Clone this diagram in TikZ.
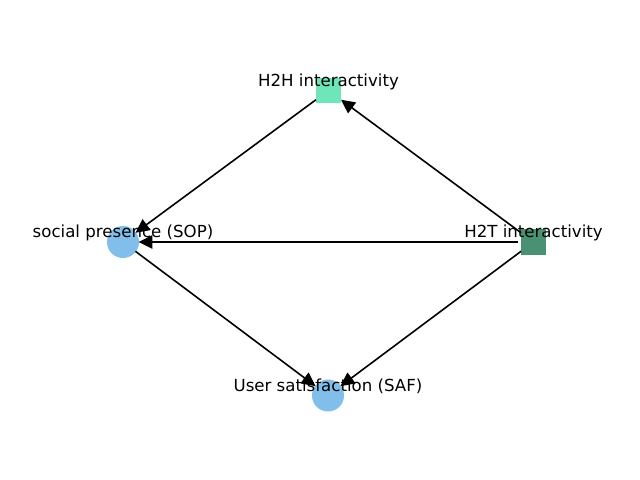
\documentclass[tikz,border=0pt]{standalone}
\usepackage{fontspec}
\setmainfont{DejaVu Sans}
\usepackage{tikz}
\usepackage{xcolor}
\definecolor{mintgreen}{RGB}{111,230,186}
\definecolor{deepgreen}{RGB}{74,145,115}
\definecolor{skyblue}{RGB}{130,190,234}
\usetikzlibrary{arrows.meta}

\begin{document}
\begin{tikzpicture}[
	x=0.01in, y=-0.01in,  % one unit = one pixel of the reference
	sqnode/.style={
		rectangle,            % square marker
		draw=none,            % no border
		minimum size=18.07pt, % side
		inner sep=0pt
	},
	dotnode/.style={
		circle,               % round marker
		draw=none,            % no border
		fill=skyblue,         % light blue fill
		minimum size=23.13pt, % diameter
		inner sep=0pt
	},
	link/.style={
		draw=black,           % black line
		line width=1.15pt,    % thickness
		-{Triangle[length=10pt,width=9.6pt]},
		shorten <=11.2pt,     % leave the start marker free
		shorten >=11.2pt      % stop at the end marker
	},
	tag/.style={
		anchor=base,          % place by baseline
		font=\fontsize{12}{14}\selectfont,
		text=black,
		inner sep=0pt,
		yshift=2.89pt         % baseline a bit above the marker centre
	}
]
	\useasboundingbox (0,0) rectangle (640,480);

	% markers
	\node[sqnode, fill=mintgreen] (h2h) at (328.5,90.5) {};
	\node[sqnode, fill=deepgreen] (h2t) at (533.5,242) {};
	\node[dotnode] (sop) at (123,242) {};
	\node[dotnode] (saf) at (328,395.5) {};

	% links
	\draw[link] (h2h.center) -- (sop.center);
	\draw[link] (h2t.center) -- (h2h.center);
	\draw[link] (h2t.center) -- (sop.center);
	\draw[link] (h2t.center) -- (saf.center);
	\draw[link] (sop.center) -- (saf.center);

	% texts
	\node[tag] (h2htag) at (h2h.center) {H2H interactivity};
	\node[tag] (h2ttag) at (h2t.center) {H2T interactivity};
	\node[tag] (soptag) at (sop.center) {social presence (SOP)};
	\node[tag] (saftag) at (saf.center) {User satisfaction (SAF)};
\end{tikzpicture}
\end{document}
